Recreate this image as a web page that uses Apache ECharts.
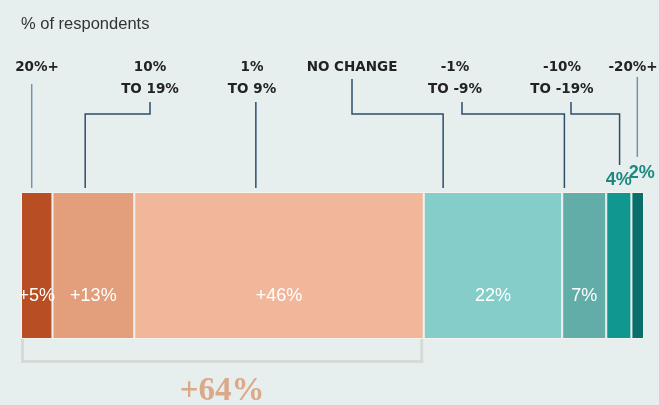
<!DOCTYPE html>
<html>
<head>
<meta charset="utf-8">
<script src="https://cdn.jsdelivr.net/npm/echarts@6/dist/echarts.min.js"></script>
<style>
  html, body { margin: 0; padding: 0; background: #e6efee; }
  #chart { width: 659px; height: 405px; }
</style>
</head>
<body>
<div id="chart"></div>
<script>
// expected change, % of respondents
const values = [5, 13, 46, 22, 7, 4, 2];
const valueLabels = ['+5%', '+13%', '+46%', '22%', '7%', '4%', '2%'];
const groupLine1 = ['20%+', '10%', '1%', 'NO CHANGE', '-1%', '-10%', '-20%+'];
const groupLine2 = ['', 'TO 19%', 'TO 9%', '', 'TO -9%', 'TO -19%', ''];
const increaseTotal = '+64%';

const colors = ['#b84f24', '#e39e7b', '#f0b79a', '#84cdc8', '#63ada9', '#109890', '#0a6e6a'];

// where the leader line meets each segment (share of the segment width)
const anchorShare = [0.34, 0.4, 0.42, 0.14, 0.05, 0.53, 0.47];
// label layout
const labelX = [37, 150, 252, 352, 455, 562, 633];
const lineStartX = [37, 150, 252, 352, 462, 571, 633];
const lineTop = [84, 102, 102, 79, 102, 102, 77];
const lineEnd = [188, 188, 188, 188, 188, 165, 157];
const elbow = [false, true, false, true, true, true, false];

const chart = echarts.init(document.getElementById('chart'));

const series = values.map((v, i) => {
  const inside = i < 5;
  return {
    type: 'bar',
    stack: 'all',
    data: [v],
    barWidth: '100%',
    silent: true,
    itemStyle: { color: colors[i], borderColor: '#f3f3f0', borderWidth: 1 },
    label: inside ? {
      show: true,
      position: 'inside',
      offset: [0, 31],
      formatter: valueLabels[i],
      color: '#ffffff',
      fontSize: 18,
      fontFamily: 'Liberation Sans'
    } : {
      show: true,
      position: 'top',
      distance: 3,
      offset: i === 6 ? [4, -7] : [0, 0],
      formatter: valueLabels[i],
      color: '#1d8880',
      fontSize: 18,
      fontWeight: 'bold',
      fontFamily: 'Liberation Sans'
    }
  };
});

const option = {
  backgroundColor: '#e6efee',
  animation: false,
  title: {
    text: '% of respondents',
    left: 16,
    top: 11,
    textStyle: { color: '#333', fontSize: 16.5, fontWeight: 'normal', fontFamily: 'Liberation Sans' }
  },
  grid: { left: 21, right: 15, top: 192, bottom: 66 },
  xAxis: { type: 'value', min: 0, max: 99, show: false },
  yAxis: { type: 'category', data: ['all'], show: false },
  series: series
};

chart.setOption(option);

// leader lines, group labels and the bracket, positioned from the data
const px = (v) => chart.convertToPixel({ xAxisIndex: 0 }, v);
const graphics = [];
let start = 0;
values.forEach((v, i) => {
  const bx = px(start + v * anchorShare[i]);
  start += v;
  const pts = elbow[i]
    ? [[lineStartX[i], lineTop[i]], [lineStartX[i], 114], [bx, 114], [bx, lineEnd[i]]]
    : [[bx, lineTop[i]], [bx, lineEnd[i]]];
  graphics.push({
    type: 'polyline',
    silent: true,
    shape: { points: pts },
    style: { stroke: (i === 0 || i === 6) ? '#7893a8' : '#2e4d6b', lineWidth: 1.5, fill: null }
  });
  graphics.push({
    type: 'text',
    silent: true,
    x: labelX[i],
    y: 56,
    style: {
      text: groupLine2[i] ? groupLine1[i] + '\n' + groupLine2[i] : groupLine1[i],
      align: 'center',
      verticalAlign: 'top',
      lineHeight: 22.5,
      font: 'bold 13.5px "DejaVu Sans"',
      fill: '#222'
    }
  });
});

// bracket under the increases
const incSum = values[0] + values[1] + values[2];
const bxL = px(0) + 1.5;
const bxR = px(incSum) - 2;
const barBottom = 405 - 66;
graphics.push({
  type: 'polyline',
  silent: true,
  shape: { points: [[bxL, barBottom], [bxL, 361.5], [bxR, 361.5], [bxR, barBottom]] },
  style: { stroke: '#d6dad6', lineWidth: 3, fill: null }
});
graphics.push({
  type: 'text',
  silent: true,
  x: (bxL + bxR) / 2,
  y: 391,
  style: {
    text: increaseTotal,
    align: 'center',
    verticalAlign: 'middle',
    font: 'bold 33px "Liberation Serif"',
    fill: '#dca88a'
  }
});

chart.setOption({ graphic: graphics });
</script>
</body>
</html>
